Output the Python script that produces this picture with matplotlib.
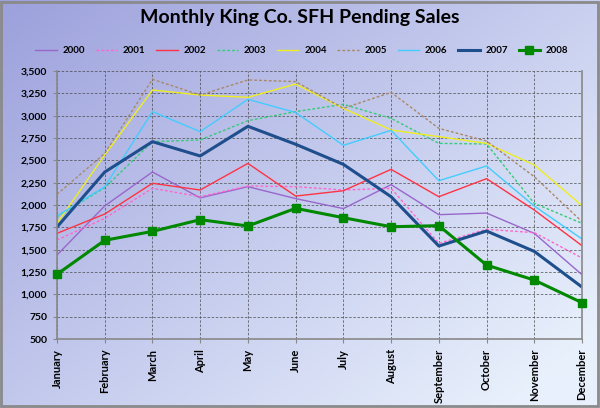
import matplotlib
matplotlib.use("Agg")
import matplotlib.pyplot as plt
import numpy as np

# Datos del gráfico
months = ["January", "February", "March", "April", "May", "June", "July",
          "August", "September", "October", "November", "December"]
years = ["2000", "2001", "2002", "2003", "2004", "2005", "2006", "2007", "2008"]

s2000 = [1440, 1990, 2370, 2080, 2205, 2072, 1960, 2228, 1892, 1910, 1683, 1220]
s2001 = [1608, 1851, 2187, 2093, 2213, 2205, 2168, 2187, 1571, 1728, 1691, 1407]
s2002 = [1683, 1899, 2243, 2168, 2466, 2100, 2160, 2399, 2093, 2295, 1944, 1545]
s2003 = [1870, 2194, 2709, 2728, 2944, 3045, 3127, 2970, 2690, 2683, 2019, 1795]
s2004 = [1795, 2560, 3287, 3231, 3205, 3354, 3082, 2840, 2765, 2690, 2448, 1993]
s2005 = [2120, 2578, 3407, 3231, 3400, 3381, 3082, 3261, 2858, 2716, 2317, 1814]
s2006 = [1877, 2205, 3045, 2821, 3183, 3035, 2668, 2836, 2272, 2437, 1989, 1620]
s2007 = [1754, 2369, 2709, 2549, 2881, 2680, 2455, 2093, 1541, 1709, 1481, 1082]
s2008 = [1225, 1605, 1705, 1836, 1765, 1963, 1858, 1757, 1769, 1328, 1160, 907]

series = [s2000, s2001, s2002, s2003, s2004, s2005, s2006, s2007, s2008]
colors = ["#9966CC", "#FF66CC", "#FF3344", "#33CC77", "#EEEE22", "#AA8866",
          "#44CCFF", "#1F4E8C", "#008800"]
dotted = (0, (2, 1.5))
styles = ["-", dotted, "-", dotted, "-", dotted, "-", "-", "-"]
widths = [1.0, 1.0, 1.0, 1.0, 1.0, 1.0, 1.0, 2.2, 2.2]

plt.rcParams["font.family"] = ["Lato", "DejaVu Sans"]

fig = plt.figure(figsize=(6, 4.08), dpi=100)

# Fondo degradado
bg = fig.add_axes([0, 0, 1, 1], zorder=-10)
yy, xx = np.mgrid[0:1:200j, 0:1:300j]
t = np.clip(xx * 0.6 + yy * 0.5, 0, 1)
c0 = np.array([156, 160, 220]) / 255
c1 = np.array([232, 240, 252]) / 255
img = c0[None, None, :] * (1 - t[..., None]) + c1[None, None, :] * t[..., None]
bg.imshow(img, extent=[0, 1, 0, 1], aspect="auto", origin="upper")
bg.set_xlim(0, 1)
bg.set_ylim(0, 1)
bg.axis("off")
bg.add_patch(plt.Rectangle((0.002, 0.004), 0.994, 0.992, fill=False,
                           edgecolor="#8a8a8a", linewidth=2.0))

ax = fig.add_axes([0.095, 0.169, 0.875, 0.657])
ax.patch.set_alpha(0)
x = np.arange(len(months))
for name, ys, c, ls, lw in zip(years, series, colors, styles, widths):
    if name == "2008":
        ax.plot(x, ys, color=c, linestyle=ls, linewidth=lw, marker="s",
                markersize=6, label=name, clip_on=False, zorder=5)
    else:
        ax.plot(x, ys, color=c, linestyle=ls, linewidth=lw, label=name)

ax.set_xlim(0, 11)
ax.set_ylim(500, 3500)
ax.set_yticks(np.arange(500, 3501, 250))
ax.set_yticklabels([f"{v:,}" for v in range(500, 3501, 250)],
                   fontsize=7.5, fontweight="bold")
ax.set_xticks(x)
ax.set_xticklabels(months, rotation=90, fontsize=8, fontweight="bold")
ax.grid(True, color="#444444", linestyle=(0, (3, 2)), linewidth=0.6, alpha=0.8)
ax.tick_params(length=3, color="#888888", pad=4)
ax.spines["top"].set_visible(False)
for side in ["left", "bottom", "right"]:
    ax.spines[side].set_color("#888888")
    ax.spines[side].set_linewidth(1.2)

fig.text(0.5, 0.957, "Monthly King Co. SFH Pending Sales", ha="center",
         va="center", fontsize=14, fontweight="bold")
fig.legend(loc="center", bbox_to_anchor=(0.503, 0.876), ncol=9, frameon=False,
           prop={"weight": "bold", "size": 7}, handlelength=2.2,
           columnspacing=1.1, handletextpad=0.6)

fig.savefig("out.png", dpi=100)
